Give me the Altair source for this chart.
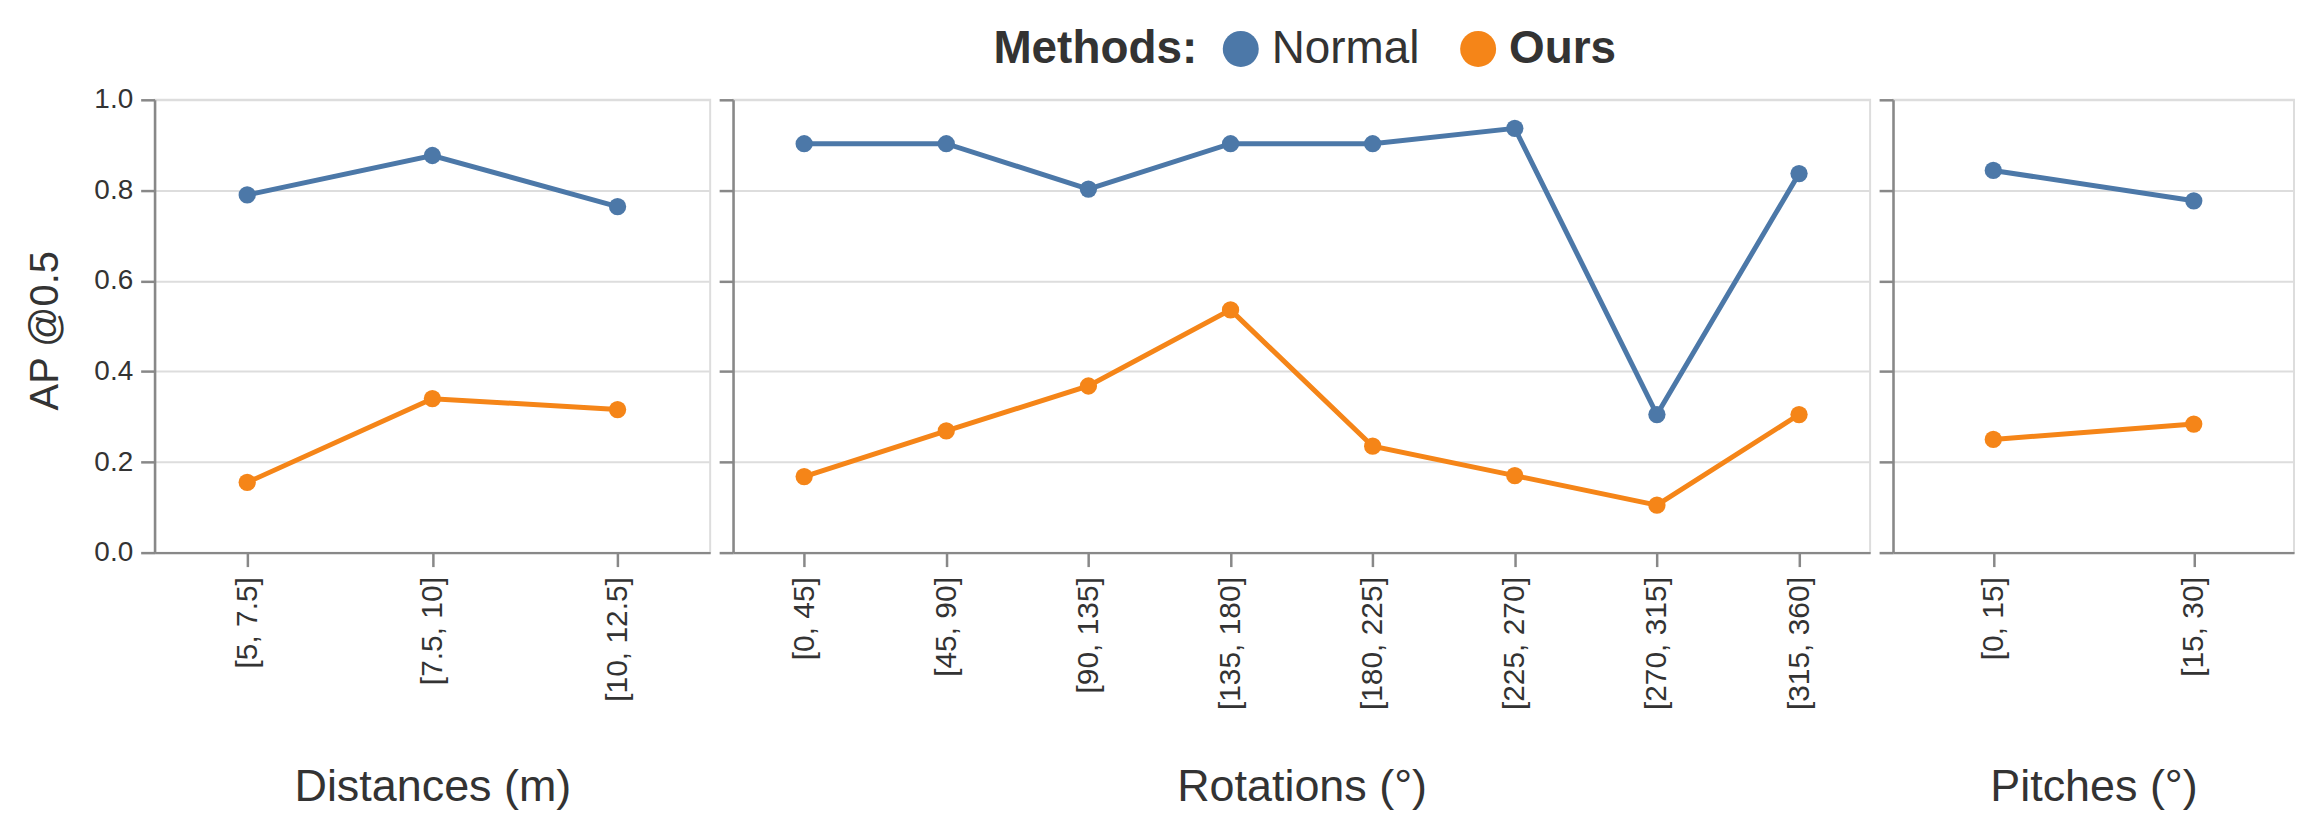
import altair as alt
import pandas as pd

methods = ["Normal", "Ours"]
colors = ["#4c78a8", "#f58518"]

dist_labels = ["[5, 7.5]", "[7.5, 10]", "[10, 12.5]"]
dist_normal = [0.790, 0.877, 0.764]
dist_ours = [0.155, 0.340, 0.316]

rot_labels = ["[0, 45]", "[45, 90]", "[90, 135]", "[135, 180]",
              "[180, 225]", "[225, 270]", "[270, 315]", "[315, 360]"]
rot_normal = [0.903, 0.903, 0.803, 0.903, 0.903, 0.937, 0.305, 0.837]
rot_ours = [0.168, 0.269, 0.368, 0.536, 0.235, 0.170, 0.105, 0.305]

pitch_labels = ["[0, 15]", "[15, 30]"]
pitch_normal = [0.844, 0.777]
pitch_ours = [0.250, 0.284]

y_ticks = [0.0, 0.2, 0.4, 0.6, 0.8, 1.0]

FONT = "Liberation Sans, Arial, Helvetica, sans-serif"

legend = alt.Legend(
    title="Methods:",
    orient="none",
    legendX=841,
    legendY=-74,
    direction="horizontal",
    titleOrient="left",
    titleFontSize=46,
    titleFontWeight="bold",
    titleColor="#333",
    titleFont=FONT,
    titlePadding=20,
    titleLimit=600,
    titleBaseline="middle",
    labelFontSize=46,
    labelFont=FONT,
    labelColor="#333",
    labelLimit=400,
    labelFontWeight=alt.ExprRef(expr="datum.label == 'Ours' ? 'bold' : 'normal'"),
    labelOffset=8,
    columnPadding=35,
    symbolType="circle",
    symbolSize=1300,
    symbolStrokeWidth=0,
    symbolOpacity=1,
)


def panel(labels, normal, ours, title, width, first):
    df = pd.DataFrame({
        "bin": labels + labels,
        "ap": normal + ours,
        "method": ["Normal"] * len(labels) + ["Ours"] * len(labels),
    })
    x = alt.X(
        "bin:N", sort=labels, title=title,
        scale=alt.Scale(type="point", padding=0.5),
        axis=alt.Axis(labelAngle=-90, titleY=249, titleBaseline="alphabetic",
                      titleFontSize=45, grid=False, labelFontSize=30,
                      labelPadding=10),
    )
    if first:
        yaxis = alt.Axis(values=y_ticks, format=".1f", labelFontSize=28,
                         titleX=-109, titleY=231, titleAngle=270,
                         titleAlign="center", titleBaseline="middle",
                         titleFontSize=40, titleLimit=1000, labelPadding=8)
        ytitle = "AP @0.5"
    else:
        yaxis = alt.Axis(values=y_ticks, labels=False, title=None)
        ytitle = None
    y = alt.Y("ap:Q", scale=alt.Scale(domain=[0, 1]), title=ytitle, axis=yaxis)
    color = alt.Color("method:N", scale=alt.Scale(domain=methods, range=colors),
                      legend=legend)
    base = alt.Chart(df).encode(x=x, y=y, color=color)
    lines = base.mark_line(strokeWidth=5)
    pts = base.mark_point(filled=True, size=300, opacity=1, shape="circle")
    return alt.layer(lines, pts).properties(width=width, height=454)


p1 = panel(dist_labels, dist_normal, dist_ours, "Distances (m)", 557, True)
p2 = panel(rot_labels, rot_normal, rot_ours, "Rotations (°)", 1140, False)
p3 = panel(pitch_labels, pitch_normal, pitch_ours, "Pitches (°)", 402, False)

chart = alt.hconcat(p1, p2, p3, spacing=23, bounds="flush").properties(
    padding={"left": 17, "top": 17, "right": 0, "bottom": 0}
).configure_view(
    stroke="#ddd", strokeWidth=2
).configure_axis(
    labelFont=FONT, titleFont=FONT,
    labelColor="#333", titleColor="#333",
    titleFontWeight="normal",
    domainColor="#888", domainWidth=2.5,
    tickColor="#888", tickWidth=2.5, tickSize=14,
    gridColor="#ddd", gridWidth=2,
)

chart.save("out.html", embed_options={"renderer": "svg", "actions": False})
